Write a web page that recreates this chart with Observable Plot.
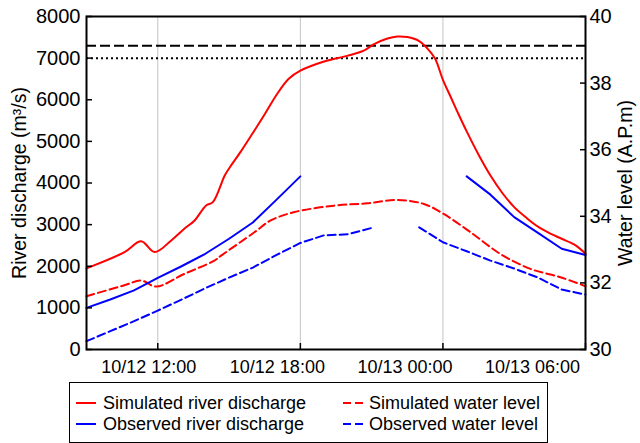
<!DOCTYPE html>
<html><head><meta charset="utf-8">
<script src="https://cdn.jsdelivr.net/npm/d3@7"></script>
<script src="https://cdn.jsdelivr.net/npm/@observablehq/plot@0.6"></script>
<style>
body{margin:0;background:#fff;font-family:"Liberation Sans",Arial,sans-serif;}
#wrap{position:relative;width:640px;height:443px;overflow:hidden;}
#legend{position:absolute;left:69px;top:382px;width:479px;height:61px;border:1px solid #000;box-sizing:border-box;background:#fff;}
.lt{position:absolute;font-size:18px;line-height:20px;white-space:nowrap;color:#000;}
.ls{position:absolute;}
</style></head><body><div id="wrap"></div>
<script>
// ---- data ----
const simQTimes = ["12T09:00","12T10:36","12T11:18","12T11:52","12T12:34","12T13:07","12T13:33","12T14:02","12T14:19","12T14:49","12T15:00","12T15:30","12T16:00","12T16:30","12T17:00","12T17:30","12T18:00","12T19:00","12T20:00","12T20:40","12T21:05","12T21:40","12T22:05","12T22:30","12T23:00","12T23:20","12T23:40","13T00:00","13T00:20","13T00:40","13T01:00","13T01:30","13T02:00","13T02:30","13T03:00","13T03:30","13T04:00","13T04:30","13T05:00","13T05:30","13T05:45","13T06:00"];
const simQValues = [1950,2340,2600,2340,2620,2900,3100,3460,3540,4180,4350,4760,5200,5650,6120,6500,6700,6920,7060,7180,7330,7470,7520,7505,7410,7240,6990,6480,6060,5640,5240,4680,4180,3760,3420,3170,2950,2790,2660,2530,2430,2300];

const obsTimes = ["12T09:00","12T10:00","12T11:00","12T12:00","12T13:00","12T14:00","12T15:00","12T16:00","12T17:00","12T18:00","12T19:00","12T20:00","12T21:00","12T22:00","12T23:00","13T00:00","13T01:00","13T02:00","13T03:00","13T04:00","13T05:00","13T06:00"];
const obsQValues = [1000,1200,1420,1720,2000,2300,2660,3050,3600,4160,null,null,null,null,null,null,4160,3720,3180,2800,2420,2270];
const obsLevelValues = [30.25,30.55,30.85,31.17,31.5,31.84,32.16,32.46,32.84,33.2,33.43,33.46,33.65,null,33.67,33.22,32.95,32.67,32.43,32.16,31.8,31.65];

const simLTimes = ["12T09:00","12T10:36","12T11:18","12T11:56","12T13:07","12T14:23","12T14:40","12T16:04","12T16:44","12T17:43","12T19:25","12T20:49","12T22:05","12T23:12","13T00:02","13T01:10","13T02:25","13T03:41","13T04:57","13T06:00"];
const simLValues = [31.6,31.93,32.07,31.89,32.27,32.67,32.82,33.52,33.87,34.12,34.32,34.39,34.49,34.37,34.07,33.52,32.87,32.42,32.17,31.9];

const dangerQ = 7300;   // dashed reference line
const warningQ = 7000;  // dotted reference line

const xDomain = ["12T09:00","13T06:00"];
const xTickTimes = ["12T12:00","12T18:00","13T00:00","13T06:00"];
const xTickLabels = ["10/12 12:00","10/12 18:00","10/13 00:00","10/13 06:00"];
const gridTimes = ["12T12:00","12T18:00","13T00:00"];
const qTicks = [0,1000,2000,3000,4000,5000,6000,7000,8000];
const levelTicks = [30,32,34,36,38,40];
const qDomain = [0,8000];
const levelDomain = [30,40];

const leftTitle = "River discharge (m³/s)";
const rightTitle = "Water level (A.P.m)";

const legendNames = ["Simulated river discharge","Observed river discharge","Simulated water level","Observed water level"];
const legendColors = ["#ff0000","#0000ff","#ff0000","#0000ff"];
const legendDashed = [false,false,true,true];

// ---- helpers ----
const parse = t => new Date(`2019-10-${t}:00Z`);
const k = (qDomain[1]-qDomain[0])/(levelDomain[1]-levelDomain[0]);
const lvToQ = v => v == null ? NaN : (v - levelDomain[0]) * k;
const num = v => v == null ? NaN : v;

const simQ = simQTimes.map((t,i)=>({t:parse(t), v:simQValues[i]}));
const obsQ = obsTimes.map((t,i)=>({t:parse(t), v:num(obsQValues[i])}));
const obsL = obsTimes.map((t,i)=>({t:parse(t), v:lvToQ(obsLevelValues[i])}));
const simL = simLTimes.map((t,i)=>({t:parse(t), v:lvToQ(simLValues[i])}));

const RED = "#ff0000", BLUE = "#0000ff", DASH = "8,4";
const labelShift = [-9,-23,-38,-53];

const marks = [
  Plot.ruleX(gridTimes.map(parse), {stroke:"#c4c4c4", strokeWidth:1}),
  Plot.ruleY([dangerQ], {stroke:"#000", strokeWidth:2, strokeDasharray:"10,4"}),
  Plot.ruleY([warningQ], {stroke:"#000", strokeWidth:2, strokeDasharray:"2,3"}),
  Plot.line(simL, {x:"t", y:"v", stroke:RED, strokeWidth:2, strokeDasharray:DASH, curve:"catmull-rom"}),
  Plot.line(obsL, {x:"t", y:"v", stroke:BLUE, strokeWidth:2, strokeDasharray:DASH}),
  Plot.line(simQ, {x:"t", y:"v", stroke:RED, strokeWidth:2, curve:"catmull-rom"}),
  Plot.line(obsQ, {x:"t", y:"v", stroke:BLUE, strokeWidth:2}),
  Plot.axisX({ticks:xTickTimes.map(parse), tickSize:-6, tickFormat:()=>"", label:null, strokeWidth:1.5}),
  Plot.axisY({anchor:"left", ticks:qTicks, tickSize:-6, tickPadding:12, tickFormat:d=>String(d), label:null, strokeWidth:1.5, fontSize:20}),
  Plot.axisY({anchor:"right", ticks:levelTicks.map(lvToQ), tickSize:-6, tickPadding:10, tickFormat:d=>String(levelDomain[0] + d/k), label:null, strokeWidth:1.5, fontSize:20}),
  ...xTickTimes.map((t,i)=>Plot.text([{t:parse(t), s:xTickLabels[i]}], {x:"t", text:"s", frameAnchor:"bottom", lineAnchor:"top", dy:11, dx:labelShift[i]})),
  Plot.text([leftTitle], {frameAnchor:"left", textAnchor:"middle", rotate:-90, dx:-67, fontSize:19.5}),
  Plot.text([rightTitle], {frameAnchor:"right", textAnchor:"middle", rotate:-90, dx:40, fontSize:19.5}),
  Plot.frame({stroke:"#000", strokeWidth:2})
];

const chart = Plot.plot({
  width:640, height:380,
  marginLeft:86, marginRight:55, marginTop:16, marginBottom:31,
  style:{fontFamily:"Liberation Sans, Arial, sans-serif", fontSize:"18px", background:"white", overflow:"visible", color:"#000"},
  x:{type:"utc", domain:xDomain.map(parse)},
  y:{domain:qDomain},
  marks
});
const wrap = document.getElementById("wrap");
wrap.appendChild(chart);

// ---- legend ----
const legend = document.createElement("div");
legend.id = "legend";
const colSample = [6, 273], colText = [33, 299], rowMid = [20, 41];
legendNames.forEach((name,i)=>{
  const col = legendDashed[i] ? 1 : 0;
  const row = (i % 2);
  const svgNS = "http://www.w3.org/2000/svg";
  const s = document.createElementNS(svgNS,"svg");
  s.setAttribute("width","20"); s.setAttribute("height","4");
  s.setAttribute("class","ls");
  s.style.left = colSample[col]+"px"; s.style.top = (rowMid[row]-2)+"px";
  const ln = document.createElementNS(svgNS,"line");
  ln.setAttribute("x1","0"); ln.setAttribute("x2","20"); ln.setAttribute("y1","2"); ln.setAttribute("y2","2");
  ln.setAttribute("stroke", legendColors[i]); ln.setAttribute("stroke-width","2");
  if (legendDashed[i]) ln.setAttribute("stroke-dasharray", DASH);
  s.appendChild(ln);
  legend.appendChild(s);
  const tx = document.createElement("span");
  tx.className = "lt";
  tx.textContent = name;
  tx.style.left = colText[col]+"px"; tx.style.top = (rowMid[row]-10)+"px";
  legend.appendChild(tx);
});
wrap.appendChild(legend);
</script>
</body></html>
